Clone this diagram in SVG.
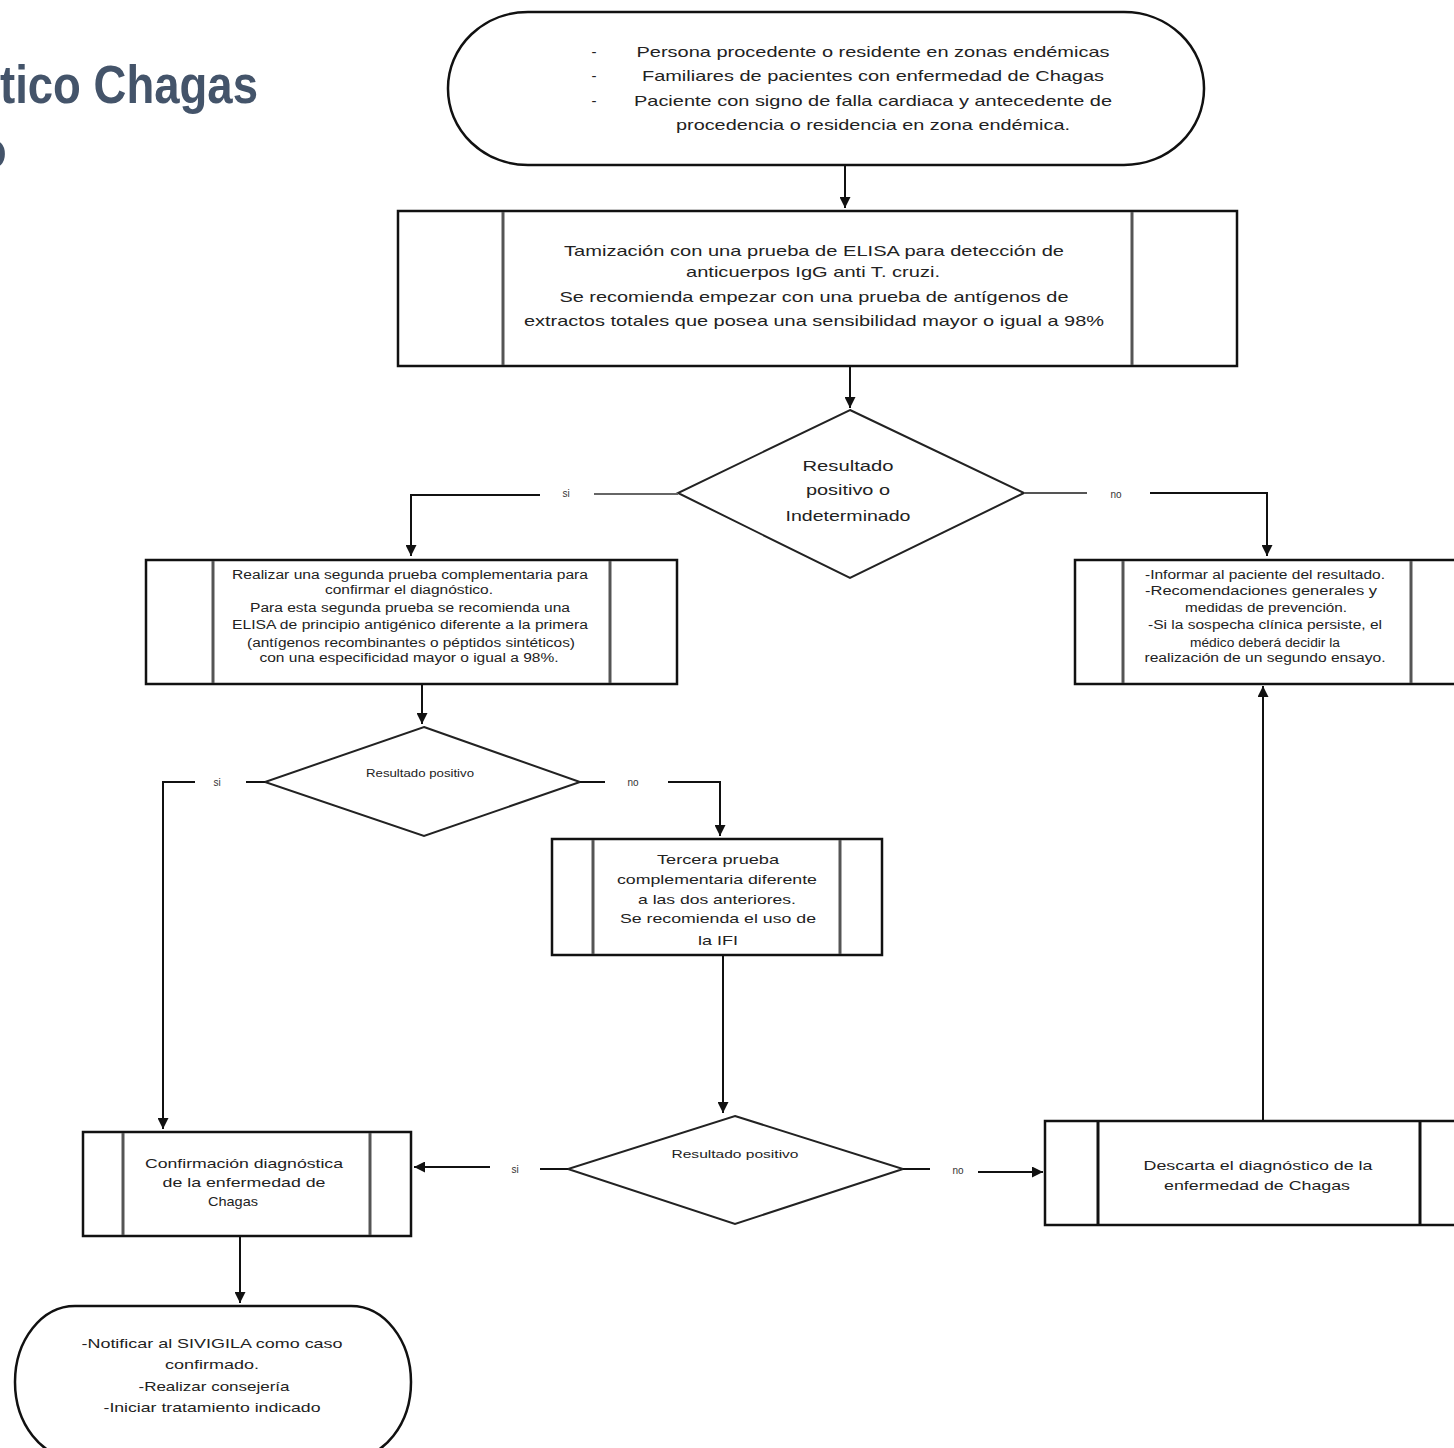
<svg xmlns="http://www.w3.org/2000/svg" width="1454" height="1448" viewBox="0 0 1454 1448">
  <defs>
    <marker id="arrow" viewBox="0 0 10 10" refX="10" refY="5" markerWidth="11" markerHeight="11" markerUnits="userSpaceOnUse" orient="auto">
      <path d="M0,0 L10,5 L0,10 z" fill="#111"/>
    </marker>
    <style>
      .title { font-family: "Liberation Sans", Arial, sans-serif; font-weight: bold; font-size: 54px; fill: #44546a; }
      .outer { fill: #fff; stroke: #111; stroke-width: 2.5; }
      .inner { stroke: #555; stroke-width: 3; fill: none; }
      .dia { fill: #fff; stroke: #222; stroke-width: 2; }
      .t { font-family: "Liberation Sans", Arial, sans-serif; fill: #222; text-anchor: middle; }
      .t15 { font-size: 15px; }
      .t13 { font-size: 13px; }
      .t12 { font-size: 12px; }
      .t11 { font-size: 11px; }
      .lbl { font-family: "Liberation Sans", Arial, sans-serif; font-size: 10px; fill: #333; text-anchor: middle; }
      .conn { fill: none; stroke: #111; stroke-width: 2; }
    </style>
  </defs>

  <rect width="1454" height="1448" fill="#fff"/>

  <!-- page title, running off the left edge -->
  <text class="title" x="0" y="103" textLength="258" lengthAdjust="spacingAndGlyphs">tico Chagas</text>
  <text class="title" x="-26" y="168">o</text>

  <!-- start terminator -->
  <g id="start">
    <rect class="outer" x="448" y="12" width="756" height="153" rx="80" ry="76"/>
    <text class="t t15" x="594" y="57">-</text>
    <text class="t t15" x="594" y="81">-</text>
    <text class="t t15" x="594" y="106">-</text>
    <text class="t t15" x="873" y="57" textLength="473" lengthAdjust="spacingAndGlyphs">Persona procedente o residente en zonas endémicas</text>
    <text class="t t15" x="873" y="81" textLength="462" lengthAdjust="spacingAndGlyphs">Familiares de pacientes con enfermedad de Chagas</text>
    <text class="t t15" x="873" y="106" textLength="478" lengthAdjust="spacingAndGlyphs">Paciente con signo de falla cardiaca y antecedente de</text>
    <text class="t t15" x="873" y="130" textLength="394" lengthAdjust="spacingAndGlyphs">procedencia o residencia en zona endémica.</text>
  </g>

  <!-- screening process -->
  <g id="tamizacion">
    <rect class="outer" x="398" y="211" width="839" height="155"/>
    <line class="inner" x1="503" y1="212" x2="503" y2="365"/>
    <line class="inner" x1="1132" y1="212" x2="1132" y2="365"/>
    <text class="t t15" x="814" y="256" textLength="500" lengthAdjust="spacingAndGlyphs">Tamización con una prueba de ELISA para detección de</text>
    <text class="t t15" x="813" y="277" textLength="254" lengthAdjust="spacingAndGlyphs">anticuerpos IgG anti T. cruzi.</text>
    <text class="t t15" x="814" y="302" textLength="509" lengthAdjust="spacingAndGlyphs">Se recomienda empezar con una prueba de antígenos de</text>
    <text class="t t15" x="814" y="326" textLength="580" lengthAdjust="spacingAndGlyphs">extractos totales que posea una sensibilidad mayor o igual a 98%</text>
  </g>

  <!-- first decision -->
  <g id="decision1">
    <polygon class="dia" points="850,410 1024,493 850,578 678,493"/>
    <text class="t t15" x="848" y="471" textLength="91" lengthAdjust="spacingAndGlyphs">Resultado</text>
    <text class="t t15" x="848" y="495" textLength="84" lengthAdjust="spacingAndGlyphs">positivo o</text>
    <text class="t t15" x="848" y="521" textLength="125" lengthAdjust="spacingAndGlyphs">Indeterminado</text>
  </g>

  <!-- second complementary test -->
  <g id="segunda-prueba">
    <rect class="outer" x="146" y="560" width="531" height="124"/>
    <line class="inner" x1="213" y1="561" x2="213" y2="683"/>
    <line class="inner" x1="610" y1="561" x2="610" y2="683"/>
    <text class="t t12" x="410" y="579" textLength="356" lengthAdjust="spacingAndGlyphs">Realizar una segunda prueba complementaria para</text>
    <text class="t t12" x="409" y="594" textLength="168" lengthAdjust="spacingAndGlyphs">confirmar el diagnóstico.</text>
    <text class="t t12" x="410" y="612" textLength="320" lengthAdjust="spacingAndGlyphs">Para esta segunda prueba se recomienda una</text>
    <text class="t t12" x="410" y="629" textLength="356" lengthAdjust="spacingAndGlyphs">ELISA de principio antigénico diferente a la primera</text>
    <text class="t t12" x="411" y="647" textLength="328" lengthAdjust="spacingAndGlyphs">(antígenos recombinantes o péptidos sintéticos)</text>
    <text class="t t12" x="409" y="662" textLength="299" lengthAdjust="spacingAndGlyphs">con una especificidad mayor o igual a 98%.</text>
  </g>

  <!-- negative screening result -->
  <g id="informar">
    <rect class="outer" x="1075" y="560" width="390" height="124"/>
    <line class="inner" x1="1123" y1="561" x2="1123" y2="683"/>
    <line class="inner" x1="1411" y1="561" x2="1411" y2="683"/>
    <text class="t t12" x="1265" y="579" textLength="240" lengthAdjust="spacingAndGlyphs">-Informar al paciente del resultado.</text>
    <text class="t t12" x="1261" y="595" textLength="232" lengthAdjust="spacingAndGlyphs">-Recomendaciones generales y</text>
    <text class="t t12" x="1266" y="612" textLength="162" lengthAdjust="spacingAndGlyphs">medidas de prevención.</text>
    <text class="t t12" x="1265" y="629" textLength="234" lengthAdjust="spacingAndGlyphs">-Si la sospecha clínica persiste, el</text>
    <text class="t t12" x="1265" y="647" textLength="150" lengthAdjust="spacingAndGlyphs">médico deberá decidir la</text>
    <text class="t t12" x="1265" y="662" textLength="241" lengthAdjust="spacingAndGlyphs">realización de un segundo ensayo.</text>
  </g>

  <!-- second decision -->
  <g id="decision2">
    <polygon class="dia" points="424,727 580,782 424,836 265,782"/>
    <text class="t t11" x="420" y="777" textLength="108" lengthAdjust="spacingAndGlyphs">Resultado positivo</text>
  </g>

  <!-- third complementary test -->
  <g id="tercera-prueba">
    <rect class="outer" x="552" y="839" width="330" height="116"/>
    <line class="inner" x1="593" y1="840" x2="593" y2="954"/>
    <line class="inner" x1="840" y1="840" x2="840" y2="954"/>
    <text class="t t13" x="718" y="864" textLength="122" lengthAdjust="spacingAndGlyphs">Tercera prueba</text>
    <text class="t t13" x="717" y="884" textLength="200" lengthAdjust="spacingAndGlyphs">complementaria diferente</text>
    <text class="t t13" x="717" y="904" textLength="158" lengthAdjust="spacingAndGlyphs">a las dos anteriores.</text>
    <text class="t t13" x="718" y="923" textLength="196" lengthAdjust="spacingAndGlyphs">Se recomienda el uso de</text>
    <text class="t t13" x="718" y="945" textLength="40" lengthAdjust="spacingAndGlyphs">la IFI</text>
  </g>

  <!-- third decision -->
  <g id="decision3">
    <polygon class="dia" points="735,1116 903,1169 735,1224 568,1169"/>
    <text class="t t11" x="735" y="1158" textLength="127" lengthAdjust="spacingAndGlyphs">Resultado positivo</text>
  </g>

  <!-- confirmed diagnosis -->
  <g id="confirmacion">
    <rect class="outer" x="83" y="1132" width="328" height="104"/>
    <line class="inner" x1="123" y1="1133" x2="123" y2="1235"/>
    <line class="inner" x1="370" y1="1133" x2="370" y2="1235"/>
    <text class="t t13" x="244" y="1168" textLength="198" lengthAdjust="spacingAndGlyphs">Confirmación diagnóstica</text>
    <text class="t t13" x="244" y="1187" textLength="163" lengthAdjust="spacingAndGlyphs">de la enfermedad de</text>
    <text class="t t13" x="233" y="1206" textLength="50" lengthAdjust="spacingAndGlyphs">Chagas</text>
  </g>

  <!-- diagnosis discarded -->
  <g id="descarta">
    <rect class="outer" x="1045" y="1121" width="420" height="104"/>
    <line class="inner" x1="1098" y1="1122" x2="1098" y2="1224" style="stroke:#111"/>
    <line class="inner" x1="1420" y1="1122" x2="1420" y2="1224" style="stroke:#111"/>
    <text class="t t13" x="1258" y="1170" textLength="229" lengthAdjust="spacingAndGlyphs">Descarta el diagnóstico de la</text>
    <text class="t t13" x="1257" y="1190" textLength="186" lengthAdjust="spacingAndGlyphs">enfermedad de Chagas</text>
  </g>

  <!-- end terminator -->
  <g id="fin">
    <rect class="outer" x="15" y="1306" width="396" height="152" rx="60" ry="76"/>
    <text class="t t13" x="212" y="1348" textLength="261" lengthAdjust="spacingAndGlyphs">-Notificar al SIVIGILA como caso</text>
    <text class="t t13" x="212" y="1369" textLength="94" lengthAdjust="spacingAndGlyphs">confirmado.</text>
    <text class="t t13" x="214" y="1391" textLength="151" lengthAdjust="spacingAndGlyphs">-Realizar consejería</text>
    <text class="t t13" x="212" y="1412" textLength="217" lengthAdjust="spacingAndGlyphs">-Iniciar tratamiento indicado</text>
  </g>

  <!-- connectors and branch labels -->
  <g id="connectors">
    <path class="conn" d="M845,165 V208" marker-end="url(#arrow)"/>
    <path class="conn" d="M850,366 V408" marker-end="url(#arrow)"/>

    <path class="conn" d="M678,494 H594" style="stroke:#666"/>
    <path class="conn" d="M540,495 H411 V556" marker-end="url(#arrow)"/>
    <text class="lbl" x="566" y="497">si</text>

    <path class="conn" d="M1024,493 H1087" style="stroke:#555"/>
    <path class="conn" d="M1150,493 H1267 V556" marker-end="url(#arrow)"/>
    <text class="lbl" x="1116" y="498">no</text>

    <path class="conn" d="M422,684 V724" marker-end="url(#arrow)"/>

    <path class="conn" d="M265,782 H246"/>
    <path class="conn" d="M195,782 H163 V1129" marker-end="url(#arrow)"/>
    <text class="lbl" x="217" y="786">si</text>

    <path class="conn" d="M580,782 H605"/>
    <path class="conn" d="M668,782 H720 V836" marker-end="url(#arrow)"/>
    <text class="lbl" x="633" y="786">no</text>

    <path class="conn" d="M723,955 V1113" marker-end="url(#arrow)"/>

    <path class="conn" d="M568,1169 H540"/>
    <path class="conn" d="M490,1167 H414" marker-end="url(#arrow)"/>
    <text class="lbl" x="515" y="1173">si</text>

    <path class="conn" d="M903,1169 H930"/>
    <path class="conn" d="M978,1172 H1043" marker-end="url(#arrow)"/>
    <text class="lbl" x="958" y="1174">no</text>

    <path class="conn" d="M1263,1121 V686" marker-end="url(#arrow)"/>
    <path class="conn" d="M240,1236 V1303" marker-end="url(#arrow)"/>
  </g>
</svg>
